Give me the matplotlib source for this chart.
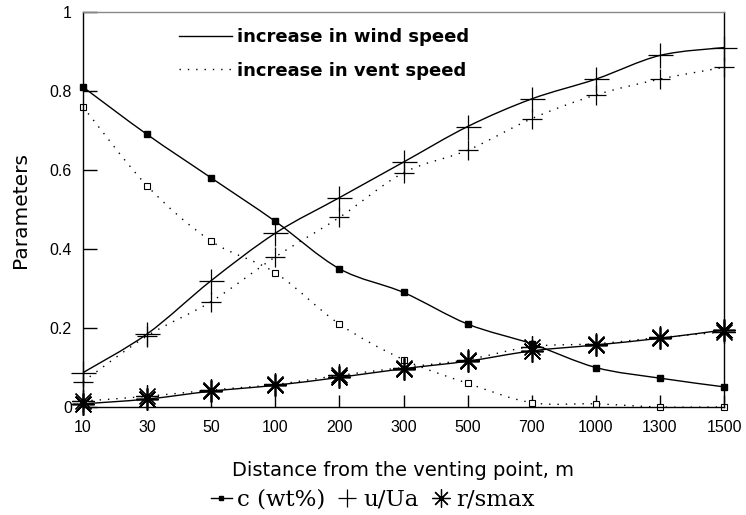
import numpy as np
import matplotlib
matplotlib.use("Agg")
import matplotlib.pyplot as plt
from matplotlib.path import Path
from matplotlib.patches import PathPatch
from matplotlib.lines import Line2D

distances = ["10", "30", "50", "100", "200", "300", "500", "700", "1000", "1300", "1500"]
c_wind = [0.81, 0.69, 0.58, 0.47, 0.35, 0.29, 0.21, 0.16, 0.10, 0.073, 0.051]
c_vent = [0.76, 0.56, 0.42, 0.34, 0.21, 0.12, 0.06, 0.011, 0.008, 0.0, 0.0]
u_wind = [0.087, 0.185, 0.32, 0.44, 0.53, 0.62, 0.71, 0.78, 0.83, 0.89, 0.91]
u_vent = [0.064, 0.18, 0.267, 0.38, 0.48, 0.593, 0.65, 0.73, 0.79, 0.83, 0.86]
r_wind = [0.008, 0.02, 0.04, 0.055, 0.075, 0.097, 0.116, 0.142, 0.157, 0.174, 0.195]
r_vent = [0.015, 0.027, 0.043, 0.057, 0.08, 0.10, 0.12, 0.153, 0.16, 0.176, 0.19]
y_ticks = [0, 0.2, 0.4, 0.6, 0.8, 1]
y_ticklabels = ["0", "0.2", "0.4", "0.6", "0.8", "1"]

fig = plt.figure(figsize=(7.46, 5.15), dpi=100)
ax = fig.add_axes([83/746, 1-407/515, 641/746, 395/515])
x = np.arange(len(distances))

def smooth(ax, xs, ys, ls):
    pts = np.column_stack([xs, ys]).astype(float)
    n = len(pts)
    verts = [tuple(pts[0])]
    codes = [Path.MOVETO]
    for i in range(n - 1):
        p0 = pts[max(i - 1, 0)]; p1 = pts[i]; p2 = pts[i + 1]; p3 = pts[min(i + 2, n - 1)]
        c1 = p1 + (p2 - p0) / 6.0
        c2 = p2 - (p3 - p1) / 6.0
        verts += [tuple(c1), tuple(c2), tuple(p2)]
        codes += [Path.CURVE4] * 3
    ax.add_patch(PathPatch(Path(verts, codes), fill=False, lw=1.0, ls=ls,
                           edgecolor="black", clip_on=False))

dot = (0, (1, 5))
ast = (8, 2, 0)
for ys, ls in [(c_wind, "-"), (u_wind, "-"), (r_wind, "-"),
               (c_vent, dot), (u_vent, dot), (r_vent, dot)]:
    smooth(ax, x, ys, ls)

ax.plot(x, c_wind, ls="none", marker="s", ms=4, color="black", clip_on=False)
ax.plot(x, c_vent, ls="none", marker="s", ms=4, mfc="white", mec="black", mew=0.8, clip_on=False)
ax.plot(x, u_wind, ls="none", marker="+", ms=18, mew=0.9, color="black", clip_on=False)
ax.plot(x, u_vent, ls="none", marker="+", ms=14, mew=0.9, color="black", clip_on=False)
ax.plot(x, r_wind, ls="none", marker=ast, ms=16, mew=1.2, color="black", clip_on=False)
ax.plot(x, r_vent, ls="none", marker=ast, ms=16, mew=0.9, color="black", clip_on=False)

ax.set_xlim(0, 10)
ax.set_ylim(0, 1)
ax.set_xticks(x)
ax.set_xticklabels(distances, family="Liberation Sans", fontsize=11.5)
ax.set_yticks(y_ticks)
ax.set_yticklabels(y_ticklabels, family="Liberation Sans", fontsize=11.5)
ax.tick_params(axis="both", direction="in", length=9, width=1, pad=9)
ax.tick_params(axis="y", length=10, pad=8)
for s in ax.spines.values():
    s.set_linewidth(1.0)
ax.spines["top"].set_color("#888888")

ax.set_ylabel("Parameters", family="DejaVu Sans", fontsize=14.5, labelpad=14)
ax.set_xlabel("Distance from the venting point, m", family="DejaVu Sans", fontsize=14, labelpad=19)

h1 = Line2D([], [], color="black", lw=1.0, ls="-")
h2 = Line2D([], [], color="black", lw=1.0, ls=dot)
ax.legend([h1, h2], ["increase in wind speed", "increase in vent speed"],
          loc="upper left", bbox_to_anchor=(0.125, 1.0), frameon=False,
          prop={"family": "DejaVu Sans", "weight": "bold", "size": 13},
          handlelength=2.9, handletextpad=0.3, labelspacing=0.85)

hc = Line2D([], [], color="black", lw=1.0, marker="s", ms=3.5)
hu = Line2D([], [], color="black", ls="none", marker="+", ms=13, mew=0.9)
hr = Line2D([], [], color="black", ls="none", marker=ast, ms=13, mew=0.9)
fig.legend([hc, hu, hr], ["c (wt%)", "u/Ua", "r/smax"], loc="center",
           bbox_to_anchor=(0.5, 0.03), ncol=3, frameon=False,
           prop={"family": "DejaVu Serif", "size": 16.5},
           handlelength=0.9, handletextpad=0.25, columnspacing=0.5)

fig.savefig("out.png", dpi=100)
